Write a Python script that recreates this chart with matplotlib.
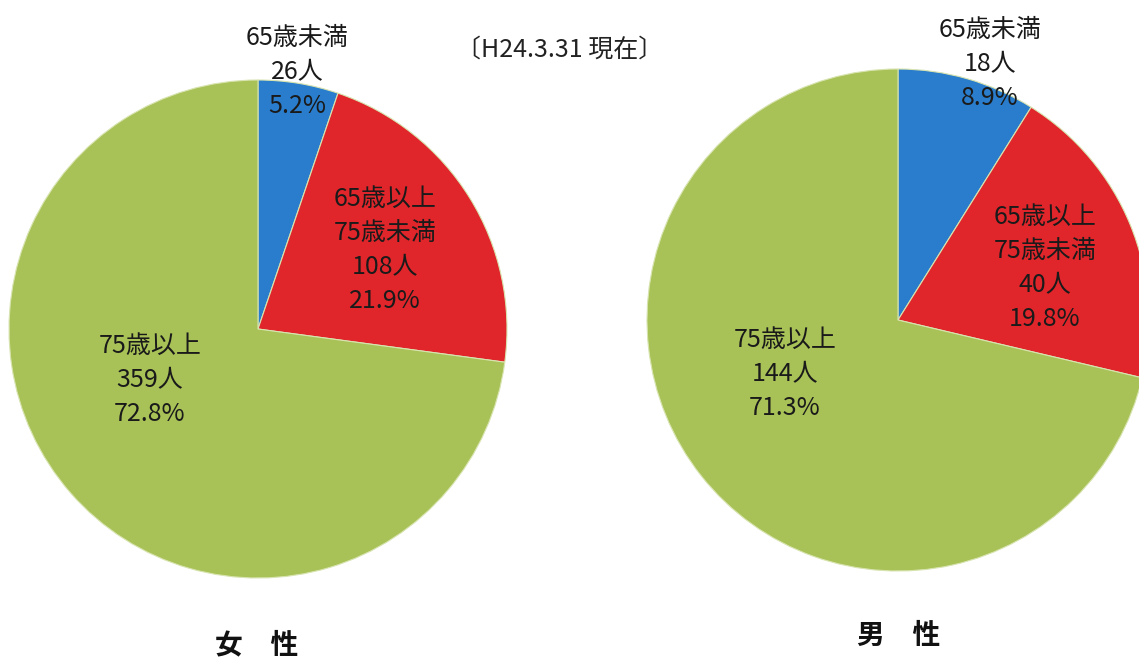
import matplotlib
matplotlib.use("Agg")
import matplotlib.pyplot as plt

plt.rcParams['font.family'] = ['Noto Sans CJK JP', 'DejaVu Sans']

# Data
categories = ["65歳未満", "65歳以上\n75歳未満", "75歳以上"]
female_counts = [26, 108, 359]
female_pcts = [5.2, 21.9, 72.8]
male_counts = [18, 40, 144]
male_pcts = [8.9, 19.8, 71.3]
panel_titles = ["女　性", "男　性"]
date_note = "〔H24.3.31 現在〕"

colors = ["#2a7dcc", "#e0262b", "#a8c257"]

W, H = 1139, 660
fig = plt.figure(figsize=(W / 100, H / 100), dpi=100)
ax = fig.add_axes([0, 0, 1, 1])


def py(y):
    return H - y


pies = [
    dict(center=(258, py(329)), radius=249, counts=female_counts, pcts=female_pcts,
         label_pos=[(297, 72), (385, 250), (150, 380)], title_pos=(257, 645)),
    dict(center=(898, py(320)), radius=251, counts=male_counts, pcts=male_pcts,
         label_pos=[(990, 64), (1045, 268), (785, 374)], title_pos=(899, 636)),
]

for i, p in enumerate(pies):
    ax.pie(p["pcts"], colors=colors, startangle=90, counterclock=False,
           center=p["center"], radius=p["radius"], frame=True,
           wedgeprops=dict(edgecolor="#d8e4b0", linewidth=0.8))
    for cat, n, pct, (lx, ly) in zip(categories, p["counts"], p["pcts"], p["label_pos"]):
        txt = f"{cat}\n{n}人\n{pct:.1f}%"
        ax.text(lx, py(ly), txt, ha="center", va="center", fontsize=18,
                color="#1a1a1a", linespacing=1.4)
    tx, ty = p["title_pos"]
    ax.text(tx, py(ty), panel_titles[i], ha="center", va="center", fontsize=20,
            fontweight="bold", color="#111111")

ax.text(560, py(50), date_note, ha="center", va="center", fontsize=18, color="#222222")

ax.set_xlim(0, W)
ax.set_ylim(0, H)
ax.set_aspect("equal")
ax.axis("off")

fig.savefig("out.png", dpi=100, facecolor="white")
